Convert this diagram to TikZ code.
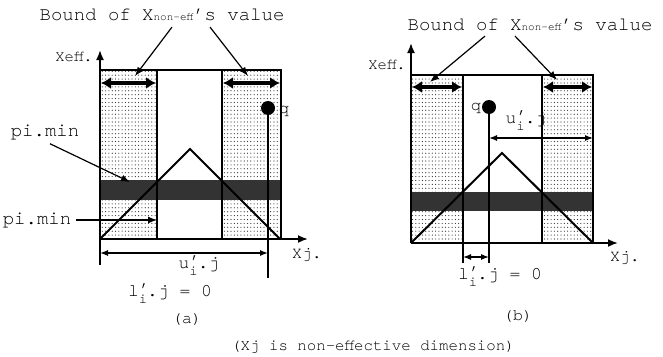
\documentclass[tikz,border=0pt]{standalone}
\usepackage{fontspec}
\setmonofont{TeX Gyre Cursor}
\usetikzlibrary{positioning, arrows.meta, patterns}

\pgfdeclarepatternformonly{paperdots}{\pgfqpoint{-1pt}{-1pt}}{\pgfqpoint{2pt}{2pt}}{\pgfqpoint{3.3pt}{3.9pt}}{%
  \pgfpathcircle{\pgfqpoint{0pt}{0pt}}{0.6pt}\pgfusepath{fill}}

\newcommand{\fsz}[1]{\fontsize{#1}{#1}\selectfont\ttfamily}
\newcommand{\primei}[1]{#1\rlap{\raisebox{2pt}{’}}\raisebox{-7pt}{\fontsize{14}{14}\selectfont i}}
\newcommand{\nonef}{X{\fontsize{11}{11}\selectfont non-eff}}

\begin{document}
\begin{tikzpicture}[x=1pt, y=-1pt,
    dotzone/.style={pattern=paperdots, pattern color=black!80},
    darkband/.style={fill=black!80},
    frame/.style={line width=2pt},
    axis/.style={line width=1.8pt, -{Latex[length=10pt,width=8pt]}},
    boundarrow/.style={line width=3.4pt, {Latex[length=10pt,width=12pt]}-{Latex[length=10pt,width=12pt]}},
    pointer/.style={line width=1.2pt, -{Latex[length=9pt,width=7pt]}},
    dimarrow/.style={line width=1.3pt, {Latex[length=8pt,width=6pt]}-{Latex[length=8pt,width=6pt]}},
    lbl/.style={inner sep=0pt, font=\fsz{#1}}]
  \useasboundingbox (0,0) rectangle (663,356);

  % ---- panel (a)
  \fill[dotzone] (100,70) rectangle (157,239);
  \fill[dotzone] (222,70) rectangle (281,239);
  \fill[darkband] (100,180) rectangle (281,200);
  \draw[frame] (100,70) -- (281,70) -- (281,239);
  \draw[frame] (157,70) -- (157,239);
  \draw[frame] (222,70) -- (222,239);
  \draw[frame] (100,239) -- (190,149) -- (280,239);
  \draw[axis] (100,265) -- (100,50);
  \draw[axis] (100,239) -- (308,239);
  \coordinate (qa) at (268,108);
  \coordinate (qafoot) at (268,278);
  \draw[frame] (qa) -- (qafoot);
  \fill (qa) circle (7);
  \node[lbl=17] (qlbla) at (284,111) {q};
  \draw[boundarrow] (101,83) -- (156,83);
  \draw[boundarrow] (223,83) -- (280,83);
  \draw[dimarrow] (100,253) -- (268,253);

  \node[lbl=19] (bounda) at (162,15) {Bound of \nonef’s value};
  \coordinate (ba1) at (135,76);
  \coordinate (ba2) at (248,76);
  \draw[pointer] ([xshift=10pt,yshift=-6pt]bounda.south) -- (ba1);
  \draw[pointer] ([xshift=48pt,yshift=-6pt]bounda.south) -- (ba2);
  \node[lbl=15.5] (xeffa) at (74,57) {Xeff.};
  \node[lbl=16.5] (xja) at (307,255) {Xj.};
  \node[lbl=19] (pitop) at (45,132) {pi.min};
  \coordinate (pitopend) at (130,182);
  \draw[pointer] ([xshift=5pt,yshift=-4pt]pitop.south) -- (pitopend);
  \node[lbl=19] (pilow) at (37,220) {pi.min};
  \coordinate (pilowend) at (157,220);
  \draw[pointer] ([xshift=5pt]pilow.east) -- (pilowend);
  \node[lbl=18] (ua) at (199,266) {\primei{u}.j};
  \node[lbl=18] (la) at (170,294) {\primei{l}.j = 0};
  \node[lbl=16.5] (capa) at (187,320) {(a)};

  % ---- panel (b)
  \fill[dotzone] (411,75) rectangle (463,243);
  \fill[dotzone] (542,75) rectangle (593,243);
  \fill[darkband] (411,192) rectangle (593,211);
  \draw[frame] (411,75) -- (593,75) -- (593,243);
  \draw[frame] (463,75) -- (463,263);
  \draw[frame] (542,75) -- (542,243);
  \draw[frame] (411,243) -- (502,153) -- (593,243);
  \draw[axis] (411,243) -- (411,43);
  \draw[axis] (411,243) -- (618,243);
  \coordinate (qb) at (489,107);
  \coordinate (qbfoot) at (489,263);
  \draw[frame] (qb) -- (qbfoot);
  \fill (qb) circle (7);
  \node[lbl=17] (qlblb) at (476,108) {q};
  \draw[boundarrow] (412,87) -- (462,87);
  \draw[boundarrow] (543,87) -- (592,87);
  \draw[dimarrow] (489,138) -- (593,138);
  \draw[dimarrow] (463,257) -- (489,257);

  \node[lbl=19] (boundb) at (530,25) {Bound of \nonef’s value};
  \coordinate (bb1) at (430,82);
  \coordinate (bb2) at (557,80);
  \draw[pointer] ([xshift=-45pt,yshift=-5pt]boundb.south) -- (bb1);
  \draw[pointer] ([xshift=-15pt,yshift=-5pt]boundb.south) -- (bb2);
  \node[lbl=15.5] (xeffb) at (387,65) {Xeff.};
  \node[lbl=16.5] (xjb) at (625,258) {Xj.};
  \node[lbl=18] (ub) at (526,121) {\primei{u}.j};
  \node[lbl=18] (lb) at (500,277) {\primei{l}.j = 0};
  \node[lbl=16.5] (capb) at (518,317) {(b)};

  \node[lbl=15.75] (note) at (373,347) {(Xj is non-effective dimension)};
\end{tikzpicture}
\end{document}
